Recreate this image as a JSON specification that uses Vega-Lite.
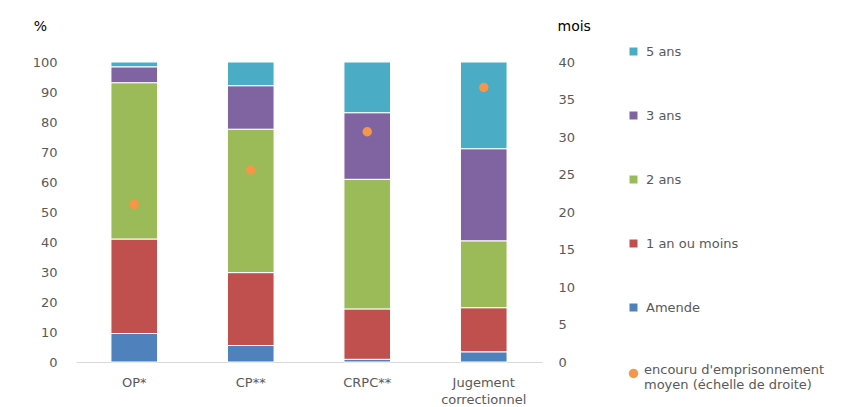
{
  "$schema": "https://vega.github.io/schema/vega-lite/v6.json",
  "autosize": {"type": "none"},
  "width": 466,
  "height": 300,
  "padding": {"left": 76, "top": 62, "right": 302, "bottom": 45},
  "background": "white",
  "config": {
    "font": "DejaVu Sans",
    "view": {"stroke": null},
    "axis": {"labelFont": "DejaVu Sans", "titleFont": "DejaVu Sans", "labelColor": "#595959", "labelFontSize": 13, "grid": false, "ticks": false}
  },
  "datasets": {
    "bars": [
      {"cat": "OP*", "seg": "Amende", "k": 1, "pct": 9.5},
      {"cat": "OP*", "seg": "1 an ou moins", "k": 2, "pct": 31.5},
      {"cat": "OP*", "seg": "2 ans", "k": 3, "pct": 52.1},
      {"cat": "OP*", "seg": "3 ans", "k": 4, "pct": 5.3},
      {"cat": "OP*", "seg": " 5 ans", "k": 5, "pct": 1.6},
      {"cat": "CP**", "seg": "Amende", "k": 1, "pct": 5.5},
      {"cat": "CP**", "seg": "1 an ou moins", "k": 2, "pct": 24.3},
      {"cat": "CP**", "seg": "2 ans", "k": 3, "pct": 47.8},
      {"cat": "CP**", "seg": "3 ans", "k": 4, "pct": 14.5},
      {"cat": "CP**", "seg": " 5 ans", "k": 5, "pct": 7.9},
      {"cat": "CRPC**", "seg": "Amende", "k": 1, "pct": 0.9},
      {"cat": "CRPC**", "seg": "1 an ou moins", "k": 2, "pct": 16.8},
      {"cat": "CRPC**", "seg": "2 ans", "k": 3, "pct": 43.2},
      {"cat": "CRPC**", "seg": "3 ans", "k": 4, "pct": 22.2},
      {"cat": "CRPC**", "seg": " 5 ans", "k": 5, "pct": 16.9},
      {"cat": "Jugement correctionnel", "seg": "Amende", "k": 1, "pct": 3.4},
      {"cat": "Jugement correctionnel", "seg": "1 an ou moins", "k": 2, "pct": 14.7},
      {"cat": "Jugement correctionnel", "seg": "2 ans", "k": 3, "pct": 22.3},
      {"cat": "Jugement correctionnel", "seg": "3 ans", "k": 4, "pct": 30.7},
      {"cat": "Jugement correctionnel", "seg": " 5 ans", "k": 5, "pct": 28.9}
    ],
    "points": [
      {"cat": "OP*", "mois": 21.0, "serie": "encouru d'emprisonnement moyen (échelle de droite)"},
      {"cat": "CP**", "mois": 25.6, "serie": "encouru d'emprisonnement moyen (échelle de droite)"},
      {"cat": "CRPC**", "mois": 30.7, "serie": "encouru d'emprisonnement moyen (échelle de droite)"},
      {"cat": "Jugement correctionnel", "mois": 36.6, "serie": "encouru d'emprisonnement moyen (échelle de droite)"}
    ]
  },
  "encoding": {
    "x": {
      "field": "cat", "type": "nominal", "sort": null,
      "scale": {"paddingInner": 0.6, "paddingOuter": 0.3},
      "axis": {"title": null, "labelAngle": 0, "domainColor": "#D9D9D9", "labelPadding": 14, "labelLineHeight": 17,
        "labelExpr": "datum.label == 'Jugement correctionnel' ? ['Jugement', 'correctionnel'] : datum.label"}
    }
  },
  "layer": [
    {
      "data": {"name": "bars"},
      "mark": {"type": "bar", "stroke": "white", "strokeWidth": 1},
      "encoding": {
        "y": {
          "field": "pct", "type": "quantitative", "stack": "zero",
          "scale": {"domain": [0, 100]},
          "axis": {"title": "%", "titleAngle": 0, "titleX": -36, "titleY": -32, "titleAlign": "center", "titleBaseline": "alphabetic",
            "titleFontSize": 14, "titleFontWeight": "normal", "titleColor": "black", "domain": false, "labelPadding": 19, "tickCount": 10}
        },
        "order": {"field": "k", "type": "quantitative", "sort": "ascending"},
        "color": {
          "field": "seg", "type": "nominal",
          "scale": {"domain": [" 5 ans", "3 ans", "2 ans", "1 an ou moins", "Amende"], "range": ["#4BACC6", "#8064A2", "#9BBB59", "#C0504D", "#4F81BD"]},
          "legend": {"title": null, "orient": "none", "legendX": 551, "legendY": -17, "symbolType": "square", "symbolSize": 64,
            "symbolStrokeWidth": 0, "labelFontSize": 13, "labelColor": "#595959", "rowPadding": 50, "labelFont": "DejaVu Sans", "labelOffset": 6}
        }
      }
    },
    {
      "data": {"name": "points"},
      "mark": {"type": "circle", "size": 90, "opacity": 1},
      "encoding": {
        "y": {
          "field": "mois", "type": "quantitative",
          "scale": {"domain": [0, 40]},
          "axis": {"orient": "right", "title": "mois", "titleAngle": 0, "titleX": 15, "titleY": -32, "titleAlign": "left", "titleBaseline": "alphabetic",
            "titleFontSize": 14, "titleFontWeight": "normal", "titleColor": "black", "domain": false, "labelPadding": 16, "tickCount": 8}
        },
        "fill": {
          "field": "serie", "type": "nominal",
          "scale": {"range": ["#F79646"]},
          "legend": {"title": null, "orient": "none", "legendX": 551, "legendY": 305, "symbolType": "circle", "symbolSize": 90,
            "symbolStrokeWidth": 0, "labelFontSize": 13, "labelColor": "#595959", "labelFont": "DejaVu Sans", "labelOffset": 4, "labelLimit": 300,
            "labelLineHeight": 17, "labelBaseline": "alphabetic",
            "labelExpr": "['encouru d\\'emprisonnement', 'moyen (échelle de droite)']"}
        }
      }
    }
  ],
  "resolve": {"scale": {"y": "independent"}}
}
